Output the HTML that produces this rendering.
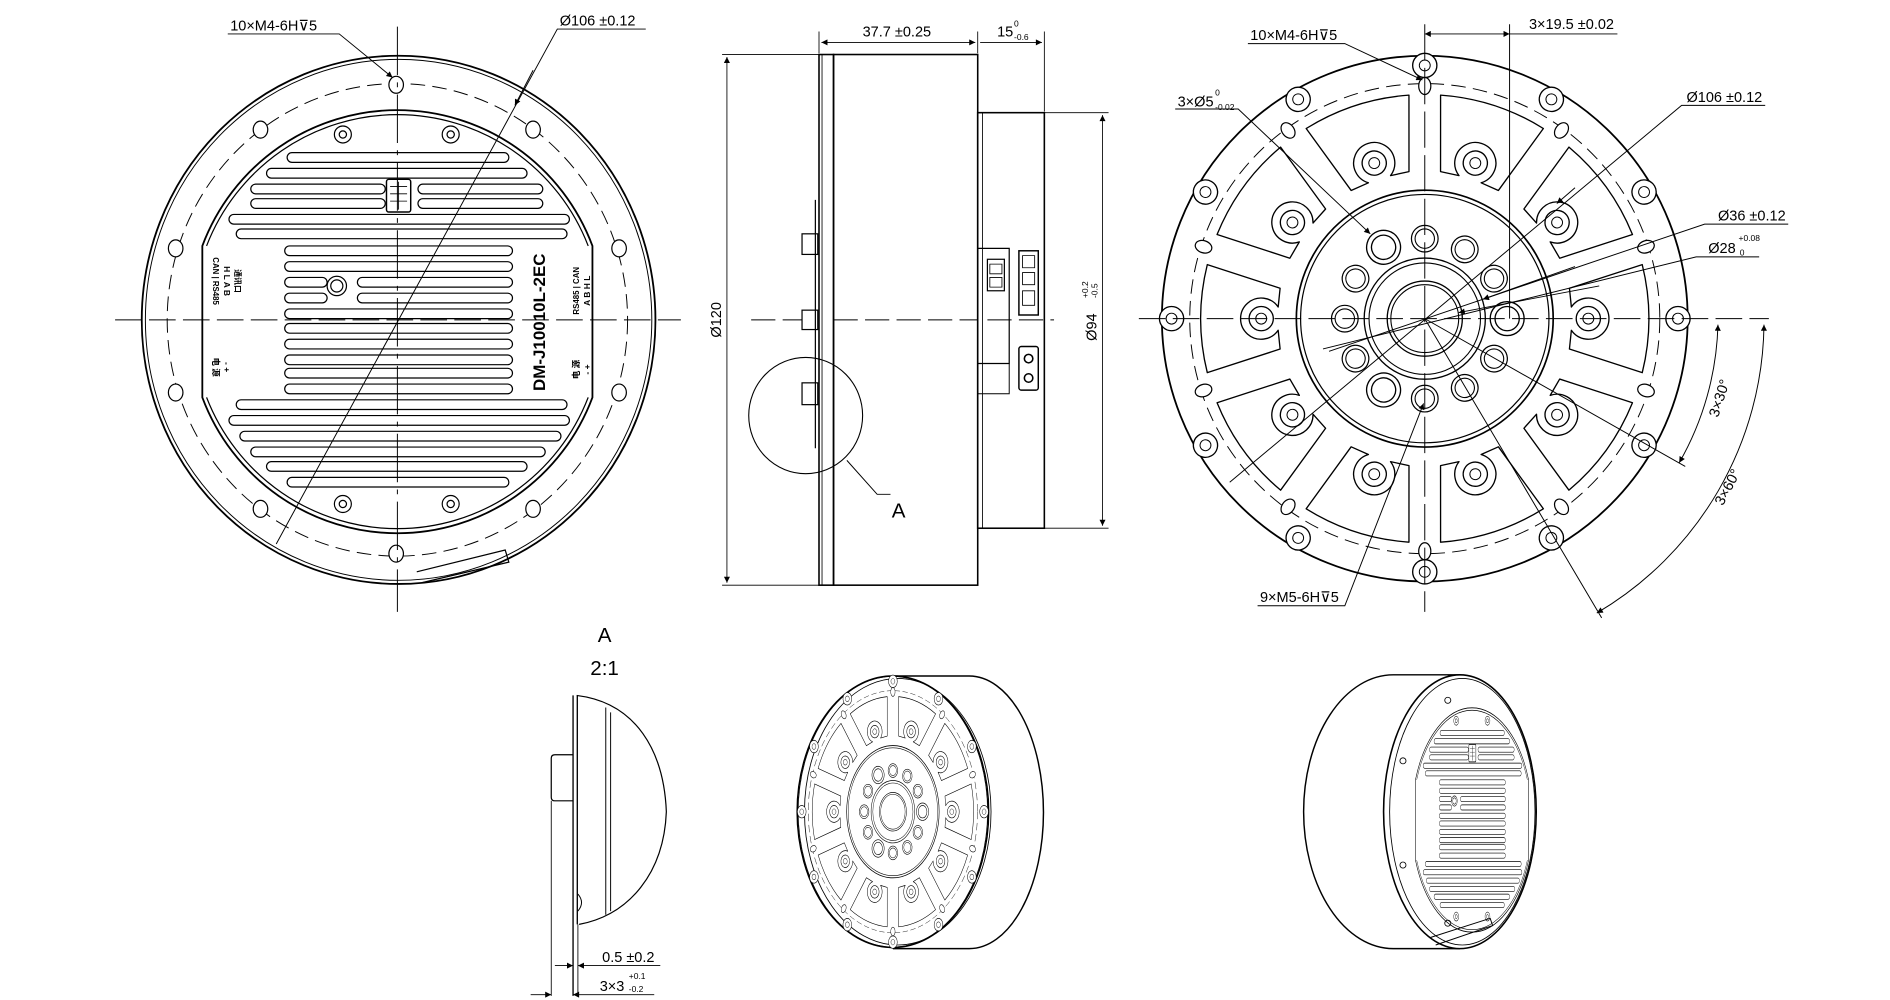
<!DOCTYPE html>
<html><head><meta charset="utf-8"><style>
html,body{margin:0;padding:0;background:#fff;}
svg{display:block;}
text{font-family:"Liberation Sans","DejaVu Sans","Noto Sans CJK SC",sans-serif;fill:#000;}
.dv{font-family:"DejaVu Sans",sans-serif;}
</style></head><body>
<svg width="1890" height="1000" viewBox="0 0 1560 825.4" preserveAspectRatio="none" xmlns="http://www.w3.org/2000/svg">
<defs>
<marker id="ar" viewBox="0 0 10 10" refX="10" refY="5" markerWidth="7" markerHeight="5" orient="auto-start-reverse" markerUnits="userSpaceOnUse"><path d="M0 0L10 5L0 10Z" fill="#000"/></marker>
<path id="win" d="M-44.6 -179.5 A185 185 0 0 1 44.6 -179.5 L25.1 -119.4 L9.6 -121 A17 17 0 1 0 -9.6 -121 L-25.1 -119.4 Z" fill="none" stroke="#000" stroke-width="1.1" stroke-linejoin="round"/>
<g id="star"><circle r="10" fill="#fff" stroke="#000" stroke-width="1.1"/><circle r="4.5" fill="none" stroke="#000" stroke-width="0.8"/></g>
<g id="sh"><ellipse rx="5" ry="7" fill="#fff" stroke="#000" stroke-width="1"/></g>
<g id="rh"><circle r="11" fill="#fff" stroke="#000" stroke-width="1"/><circle r="8" fill="none" stroke="#000" stroke-width="0.9"/></g>
<g id="bh"><circle r="14" fill="#fff" stroke="#000" stroke-width="1.1"/><circle r="10" fill="none" stroke="#000" stroke-width="1.1"/></g>

<g id="flange" fill="none" stroke="#000">
 <circle cx="1176" cy="263" r="217" stroke-width="1.5"/>
 <circle cx="1176" cy="263" r="194" stroke-width="0.8" stroke-dasharray="12 6"/>
 <g transform="translate(1176,263)">
  <use href="#win" transform="rotate(18)"/><use href="#win" transform="rotate(54)"/><use href="#win" transform="rotate(90)"/><use href="#win" transform="rotate(126)"/><use href="#win" transform="rotate(162)"/><use href="#win" transform="rotate(198)"/><use href="#win" transform="rotate(234)"/><use href="#win" transform="rotate(270)"/><use href="#win" transform="rotate(306)"/><use href="#win" transform="rotate(342)"/>
  <g><use href="#star" transform="rotate(18) translate(0,-135)"/><use href="#star" transform="rotate(54) translate(0,-135)"/><use href="#star" transform="rotate(90) translate(0,-135)"/><use href="#star" transform="rotate(126) translate(0,-135)"/><use href="#star" transform="rotate(162) translate(0,-135)"/><use href="#star" transform="rotate(198) translate(0,-135)"/><use href="#star" transform="rotate(234) translate(0,-135)"/><use href="#star" transform="rotate(270) translate(0,-135)"/><use href="#star" transform="rotate(306) translate(0,-135)"/><use href="#star" transform="rotate(342) translate(0,-135)"/></g>
  <g><use href="#star" transform="rotate(0) translate(0,-209)"/><use href="#star" transform="rotate(30) translate(0,-209)"/><use href="#star" transform="rotate(60) translate(0,-209)"/><use href="#star" transform="rotate(90) translate(0,-209)"/><use href="#star" transform="rotate(120) translate(0,-209)"/><use href="#star" transform="rotate(150) translate(0,-209)"/><use href="#star" transform="rotate(180) translate(0,-209)"/><use href="#star" transform="rotate(210) translate(0,-209)"/><use href="#star" transform="rotate(240) translate(0,-209)"/><use href="#star" transform="rotate(270) translate(0,-209)"/><use href="#star" transform="rotate(300) translate(0,-209)"/><use href="#star" transform="rotate(330) translate(0,-209)"/></g>
  <g><use href="#sh" transform="rotate(0) translate(0,-192)"/><use href="#sh" transform="rotate(36) translate(0,-192)"/><use href="#sh" transform="rotate(72) translate(0,-192)"/><use href="#sh" transform="rotate(108) translate(0,-192)"/><use href="#sh" transform="rotate(144) translate(0,-192)"/><use href="#sh" transform="rotate(180) translate(0,-192)"/><use href="#sh" transform="rotate(216) translate(0,-192)"/><use href="#sh" transform="rotate(252) translate(0,-192)"/><use href="#sh" transform="rotate(288) translate(0,-192)"/><use href="#sh" transform="rotate(324) translate(0,-192)"/></g>
  <circle r="106" stroke-width="1.4"/><circle r="102.5" stroke-width="1"/>
  <g><use href="#rh" transform="rotate(0) translate(0,-66)"/><use href="#rh" transform="rotate(30) translate(0,-66)"/><use href="#rh" transform="rotate(60) translate(0,-66)"/><use href="#rh" transform="rotate(120) translate(0,-66)"/><use href="#rh" transform="rotate(150) translate(0,-66)"/><use href="#rh" transform="rotate(180) translate(0,-66)"/><use href="#rh" transform="rotate(240) translate(0,-66)"/><use href="#rh" transform="rotate(270) translate(0,-66)"/><use href="#rh" transform="rotate(300) translate(0,-66)"/>
  <use href="#bh" transform="rotate(90) translate(0,-68)"/><use href="#bh" transform="rotate(210) translate(0,-68)"/><use href="#bh" transform="rotate(330) translate(0,-68)"/></g>
  <circle r="50" stroke-width="1.1"/><circle r="46" stroke-width="0.9"/>
  <circle r="31" stroke-width="1.1"/><circle r="28" stroke-width="0.9"/>
 </g>
</g>

<g id="plate" fill="none" stroke="#000" stroke-width="1">
 <path d="M167 203 A172 173 0 0 1 489 203 L489 328 A172 173 0 0 1 167 328 Z" stroke-width="1.5"/>
 <path d="M170.5 203 A169 170 0 0 1 485.5 203 M485.5 328 A169 170 0 0 1 170.5 328"/>
 <g>
  <rect x="237" y="126" width="183" height="8" rx="4"/>
  <rect x="220" y="139" width="215" height="8" rx="4"/>
  <rect x="207" y="152" width="111" height="8" rx="4"/><rect x="345" y="152" width="103" height="8" rx="4"/>
  <rect x="207" y="164" width="111" height="8" rx="4"/><rect x="345" y="164" width="103" height="8" rx="4"/>
  <rect x="189" y="177" width="281" height="8" rx="4"/>
  <rect x="195" y="189" width="273" height="8" rx="4"/>
  <rect x="235" y="203" width="188" height="8" rx="4"/>
  <rect x="235" y="216" width="188" height="8" rx="4"/>
  <rect x="235" y="229" width="35" height="8" rx="4"/><rect x="295" y="229" width="128" height="8" rx="4"/>
  <rect x="235" y="242" width="35" height="8" rx="4"/><rect x="295" y="242" width="128" height="8" rx="4"/>
  <rect x="235" y="255" width="188" height="8" rx="4"/>
  <rect x="235" y="267" width="188" height="8" rx="4"/>
  <rect x="235" y="280" width="188" height="8" rx="4"/>
  <rect x="235" y="293" width="188" height="8" rx="4"/>
  <rect x="235" y="304" width="188" height="8" rx="4"/>
  <rect x="235" y="317" width="188" height="8" rx="4"/>
  <rect x="195" y="330" width="273" height="8" rx="4"/>
  <rect x="189" y="343" width="281" height="8" rx="4"/>
  <rect x="198" y="356" width="265" height="8" rx="4"/>
  <rect x="207" y="369" width="243" height="8" rx="4"/>
  <rect x="220" y="381" width="215" height="8" rx="4"/>
  <rect x="237" y="394" width="183" height="8" rx="4"/>
 </g>
 <rect x="319" y="148" width="20" height="27" rx="2" fill="#fff" stroke-width="1.2"/>
 <path d="M322 154h14M322 160h14M322 166h14M329 150v23" stroke-width="0.7"/>
 <circle cx="278" cy="236" r="8"/><circle cx="278" cy="236" r="5"/>
 <circle cx="283" cy="111" r="7"/><circle cx="283" cy="111" r="3"/>
 <circle cx="372" cy="111" r="7"/><circle cx="372" cy="111" r="3"/>
 <circle cx="283" cy="416" r="7"/><circle cx="283" cy="416" r="3"/>
 <circle cx="372" cy="416" r="7"/><circle cx="372" cy="416" r="3"/>
</g>
</defs>

<g fill="none" stroke="#000">
<ellipse cx="329" cy="264" rx="212" ry="218" stroke-width="1.5"/>
<ellipse cx="329" cy="264" rx="209" ry="215" stroke-width="0.8"/>
<ellipse cx="328" cy="264" rx="190" ry="195" stroke-width="0.8" stroke-dasharray="12 6"/>
<g stroke-width="1" fill="#fff">
<ellipse cx="327" cy="70" rx="6" ry="7"/><ellipse cx="215" cy="107" rx="6" ry="7"/><ellipse cx="440" cy="107" rx="6" ry="7"/>
<ellipse cx="145" cy="205" rx="6" ry="7"/><ellipse cx="511" cy="205" rx="6" ry="7"/><ellipse cx="145" cy="324" rx="6" ry="7"/>
<ellipse cx="511" cy="324" rx="6" ry="7"/><ellipse cx="215" cy="420" rx="6" ry="7"/><ellipse cx="440" cy="420" rx="6" ry="7"/><ellipse cx="327" cy="457" rx="6" ry="7"/>
</g>
<use href="#plate"/>
<path d="M344 472 L417 454 L420 464 L348 481" stroke-width="1"/>
<path d="M95 264H562" stroke-width="0.8" stroke-dasharray="22 6"/>
<path d="M328 22V505" stroke-width="0.8" stroke-dasharray="40 6 4 6"/>
<path d="M188 28H280L324 64" stroke-width="0.8" marker-end="url(#ar)"/>
<path d="M533 24H460L228 449" stroke-width="0.8"/>
<path d="M440 58L425 87" stroke-width="0.8" marker-end="url(#ar)"/>
</g>
<text x="190" y="25" font-size="12">10×M4-6H<tspan class="dv">⊽</tspan>5</text>
<text x="462" y="21" font-size="12">Ø106 ±0.12</text>
<text transform="translate(450,266) rotate(-90)" font-size="14" font-weight="bold" text-anchor="middle">DM-J10010L-2EC</text>
<text transform="translate(478,240) rotate(-90)" font-size="6.5" font-weight="bold" text-anchor="middle">RS485 | CAN</text>
<text transform="translate(487,240) rotate(-90)" font-size="7" font-weight="bold" text-anchor="middle">A  B  H  L</text>
<text transform="translate(478,305) rotate(-90)" font-size="7" font-weight="bold" text-anchor="middle">电 源</text>
<text transform="translate(487,305) rotate(-90)" font-size="7" font-weight="bold" text-anchor="middle">-  +</text>
<text transform="translate(176,232) rotate(90)" font-size="6.5" font-weight="bold" text-anchor="middle">CAN | RS485</text>
<text transform="translate(185,232) rotate(90)" font-size="7" font-weight="bold" text-anchor="middle">H  L  A  B</text>
<text transform="translate(194,232) rotate(90)" font-size="6.5" font-weight="bold" text-anchor="middle">通讯口</text>
<text transform="translate(176,303) rotate(90)" font-size="7" font-weight="bold" text-anchor="middle">电 源</text>
<text transform="translate(185,303) rotate(90)" font-size="7" font-weight="bold" text-anchor="middle">-  +</text>

<g fill="none" stroke="#000">
<rect x="676" y="45" width="12" height="438" stroke-width="1.3"/>
<path d="M678.5 45V483" stroke-width="0.7"/>
<path d="M673 165V370" stroke-width="1"/>
<rect x="688" y="45" width="119" height="438" stroke-width="1.3"/>
<rect x="662" y="193" width="13" height="17" stroke-width="1"/>
<rect x="662" y="256" width="13" height="16" stroke-width="1"/>
<rect x="662" y="316" width="13" height="18" stroke-width="1"/>
<rect x="807" y="93" width="55" height="343" stroke-width="1.3"/>
<path d="M811 93V436" stroke-width="0.7"/>
<path d="M807 205H833V300H807" stroke-width="1"/>
<rect x="815" y="214" width="14" height="26" stroke-width="1"/>
<path d="M817 218h10v8h-10zM817 229h10v8h-10z" stroke-width="0.7"/>
<rect x="841" y="207" width="16" height="53" stroke-width="1.2"/>
<path d="M844 211h10v10h-10zM844 225h10v10h-10zM844 240h10v12h-10z" stroke-width="0.7"/>
<rect x="841" y="286" width="16" height="36" rx="2" stroke-width="1.2"/>
<circle cx="849" cy="296" r="3.5" stroke-width="1.3"/><circle cx="849" cy="312" r="3.5" stroke-width="1.3"/>
<path d="M807 300V325H833V300" stroke-width="0.8"/>
<ellipse cx="665" cy="343" rx="47" ry="48" stroke-width="0.9"/>
<path d="M699 380L724 408H735" stroke-width="0.8"/>
<path d="M620 264H662M688 264H807M815 264H870" stroke-width="0.8" stroke-dasharray="20 6"/>
<path d="M596 45H676M596 483H676" stroke-width="0.7"/>
<path d="M600 47V481" stroke-width="0.7" marker-start="url(#ar)" marker-end="url(#ar)"/>
<path d="M676 26V44M807 26V44M862 26V92" stroke-width="0.7"/>
<path d="M678 35H805" stroke-width="0.7" marker-start="url(#ar)" marker-end="url(#ar)"/>
<path d="M809 35H860" stroke-width="0.7" marker-end="url(#ar)"/>
<path d="M862 93H915M862 436H915" stroke-width="0.7"/>
<path d="M910 95V434" stroke-width="0.7" marker-start="url(#ar)" marker-end="url(#ar)"/>
</g>
<text x="712" y="30" font-size="12">37.7 ±0.25</text>
<text x="823" y="30" font-size="12">15</text>
<text x="837" y="22" font-size="7">0</text>
<text x="837" y="33" font-size="7">-0.6</text>
<text transform="translate(595,264) rotate(-90)" font-size="12" text-anchor="middle">Ø120</text>
<text transform="translate(905,270) rotate(-90)" font-size="12" text-anchor="middle">Ø94</text>
<text transform="translate(898,246) rotate(-90)" font-size="7">+0.2</text>
<text transform="translate(906,246) rotate(-90)" font-size="7">-0.5</text>
<text x="736" y="427" font-size="17">A</text>

<use href="#flange"/>
<g fill="none" stroke="#000" stroke-width="0.8">
<path d="M940 263H1460" stroke-dasharray="22 6"/>
<path d="M1176 20V505" stroke-dasharray="30 6"/>
<path d="M1246 20V263"/>
<path d="M1176 28H1246" marker-start="url(#ar)" marker-end="url(#ar)"/>
<path d="M1246 28H1335"/>
<path d="M1030 36H1110L1174 66" marker-end="url(#ar)"/>
<path d="M970 90H1022L1131 193" marker-end="url(#ar)"/>
<path d="M1457 87H1388L1015 398"/>
<path d="M1300 155L1285 168" marker-end="url(#ar)"/>
<path d="M1476 185H1407L1097 290"/>
<path d="M1300 220L1224 247" marker-end="url(#ar)"/>
<path d="M1452 212H1400L1092 288"/>
<path d="M1320 236L1204 258" marker-end="url(#ar)"/>
<path d="M1038 500H1110L1175 333" marker-end="url(#ar)"/>
<path d="M1176 263L1391 385M1176 263L1322 510"/>
<path d="M1418 268A242 242 0 0 1 1386 382" marker-start="url(#ar)" marker-end="url(#ar)"/>
<path d="M1456 268A280 280 0 0 1 1318 506" marker-start="url(#ar)" marker-end="url(#ar)"/>
</g>
<text x="1032" y="33" font-size="12">10×M4-6H<tspan class="dv">⊽</tspan>5</text>
<text x="1262" y="24" font-size="12">3×19.5 ±0.02</text>
<text x="972" y="88" font-size="12">3×Ø5</text>
<text x="1003" y="79" font-size="7">0</text>
<text x="1003" y="91" font-size="7">-0.02</text>
<text x="1392" y="84" font-size="12">Ø106 ±0.12</text>
<text x="1418" y="182" font-size="12">Ø36 ±0.12</text>
<text x="1410" y="209" font-size="12">Ø28</text>
<text x="1435" y="199" font-size="7">+0.08</text>
<text x="1436" y="211" font-size="7">0</text>
<text x="1040" y="497" font-size="12">9×M5-6H<tspan class="dv">⊽</tspan>5</text>
<text transform="translate(1418,345) rotate(-72)" font-size="12">3×30°</text>
<text transform="translate(1422,418) rotate(-62)" font-size="12">3×60°</text>

<text x="499" y="530" font-size="17" text-anchor="middle">A</text>
<text x="499" y="557" font-size="17" text-anchor="middle">2:1</text>
<g fill="none" stroke="#000">
<path d="M473 574V822M476.5 574V763" stroke-width="1.1"/>
<path d="M476 574C525 580 548 620 550 670C548 720 520 755 478 763" stroke-width="1"/>
<path d="M500 584V755M504 588V752" stroke-width="0.8"/>
<path d="M473 623H458Q455 623 455 626V658Q455 661 458 661H473" stroke-width="1"/>
<path d="M455 661V822" stroke-width="0.7"/>
<path d="M477 738Q483 745 477 752" stroke-width="0.8"/>
<path d="M477 763V822" stroke-width="0.7"/>
<path d="M458 797H473" stroke-width="0.7" marker-end="url(#ar)"/>
<path d="M545 797H477" stroke-width="0.7" marker-end="url(#ar)"/>
<path d="M438 821H455" stroke-width="0.7" marker-end="url(#ar)"/>
<path d="M540 821H473" stroke-width="0.7" marker-end="url(#ar)"/>
</g>
<text x="497" y="794" font-size="12">0.5 ±0.2</text>
<text x="495" y="818" font-size="12">3×3</text>
<text x="519" y="808" font-size="7">+0.1</text>
<text x="519" y="819" font-size="7">-0.2</text>

<g fill="none" stroke="#000">
<path d="M737 558H800A61 112 0 0 1 800 783H737" stroke-width="1.2"/>
<ellipse cx="737" cy="670" rx="79" ry="112" stroke-width="1.3" fill="#fff"/>
<ellipse cx="741" cy="670" rx="77" ry="110" stroke-width="0.7"/>
</g>
<g transform="translate(737,670) scale(0.36,0.515) translate(-1176,-263)"><use href="#flange"/></g>

<g fill="none" stroke="#000">
<path d="M1205 557H1150A74 113 0 0 0 1150 783H1205" stroke-width="1.2"/>
<ellipse cx="1205" cy="670" rx="63" ry="113" stroke-width="1.3" fill="#fff"/>
<ellipse cx="1207" cy="670" rx="60" ry="110" stroke-width="0.7"/>
<circle cx="1195" cy="578" r="2.5" stroke-width="0.7"/><circle cx="1195" cy="762" r="2.5" stroke-width="0.7"/>
<circle cx="1158" cy="628" r="2.5" stroke-width="0.7"/><circle cx="1158" cy="714" r="2.5" stroke-width="0.7"/>
<path d="M1180 774L1230 758L1232 764L1185 780" stroke-width="0.8"/>
</g>
<g transform="translate(1215,676) scale(0.29,0.53) translate(-328,-264)"><use href="#plate"/></g>
</svg>
</body></html>
